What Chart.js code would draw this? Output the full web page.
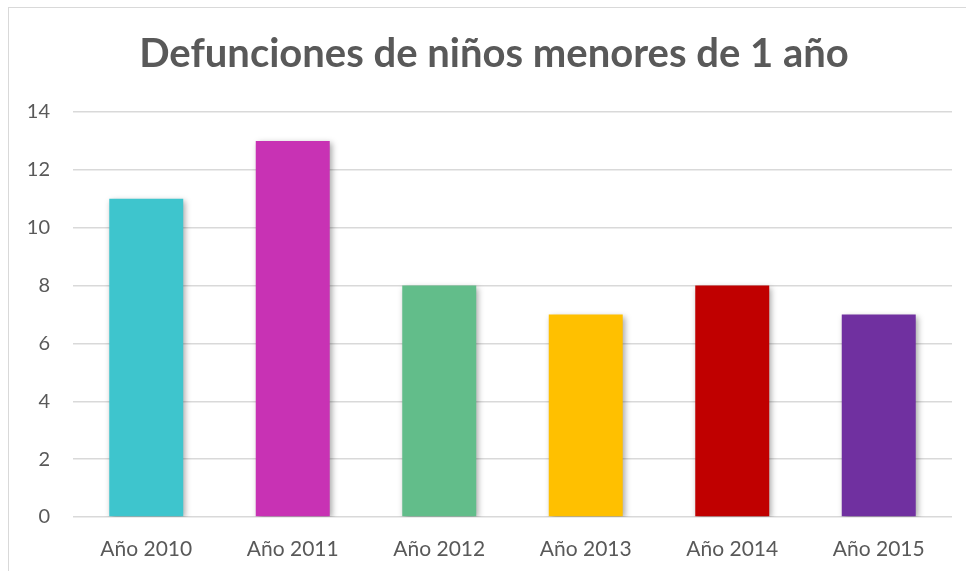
<!DOCTYPE html>
<html>
<head>
<meta charset="utf-8">
<script src="https://cdn.jsdelivr.net/npm/chart.js@4"></script>
<style>
	html, body { margin: 0; padding: 0; background: #ffffff; }
	#Wrap { position: relative; width: 966px; height: 571px; overflow: hidden; }
	#Frame {
		position: absolute; left: 8px; top: 7px; width: 1000px; height: 600px;
		border-left: 1.5px solid #d9d9d9; border-top: 1.5px solid #d9d9d9;
	}
	#DeathChart { position: absolute; left: 0; top: 0; }
</style>
</head>
<body>
<div id="Wrap">
	<div id="Frame"></div>
	<canvas id="DeathChart" width="966" height="571"></canvas>
</div>
<script>
// Chart data
const years = ["Año 2010", "Año 2011", "Año 2012", "Año 2013", "Año 2014", "Año 2015"];
const deaths = [11, 13, 8, 7, 8, 7];
const barColors = ["#3EC5CD", "#C832B4", "#62BD8A", "#FFC000", "#C00000", "#7030A0"];
const yTicks = [0, 2, 4, 6, 8, 10, 12, 14];

const textGray = "#595959";
const gridGray = "#d9d9d9";

// Title offset and soft shadow behind the bars
const barShadow = {
	id: "barShadow",
	afterLayout: function (chart) {
		// Title sits a bit right of the canvas center in the original
		if (chart.titleBlock) {
			chart.titleBlock.left += 14;
			chart.titleBlock.right += 14;
		}
	},
	beforeDatasetsDraw: function (chart) {
		const ctx = chart.ctx;
		ctx.save();
		ctx.shadowColor = "rgba(0, 0, 0, 0.35)";
		ctx.shadowBlur = 6;
		ctx.shadowOffsetX = 2;
		ctx.shadowOffsetY = 2;
	},
	afterDatasetsDraw: function (chart) {
		chart.ctx.restore();
	},
};

const deathChart = new Chart(document.getElementById("DeathChart").getContext("2d"), {
	type: "bar",
	data: {
		labels: years,
		datasets: [
			{
				data: deaths,
				backgroundColor: barColors,
				borderWidth: 0,
				barPercentage: 0.505,
				categoryPercentage: 1,
			},
		],
	},
	options: {
		responsive: false,
		animation: false,
		devicePixelRatio: 1,
		layout: {
			padding: { left: 8, right: 14, top: 0, bottom: 0 },
		},
		plugins: {
			legend: { display: false },
			tooltip: { enabled: false },
			title: {
				display: true,
				text: "Defunciones de niños menores de 1 año",
				color: textGray,
				font: { family: "Lato", size: 40, weight: "bold" },
				padding: { top: 30, bottom: 34 },
			},
		},
		scales: {
			x: {
				grid: { display: false },
				border: { display: false },
				ticks: {
					color: textGray,
					font: { family: "Lato", size: 21 },
					padding: 12,
				},
				afterFit: function (scale) {
					scale.height = 54;
				},
			},
			y: {
				min: 0,
				max: 14,
				afterBuildTicks: function (scale) {
					scale.ticks = yTicks.map((v) => ({ value: v }));
				},
				grid: { color: gridGray, lineWidth: 1.5, drawTicks: false },
				border: { display: false },
				ticks: {
					color: textGray,
					font: { family: "Lato", size: 20 },
					padding: 23,
				},
				afterFit: function (scale) {
					scale.width = 65;
				},
			},
		},
	},
	plugins: [barShadow],
});
</script>
</body>
</html>
